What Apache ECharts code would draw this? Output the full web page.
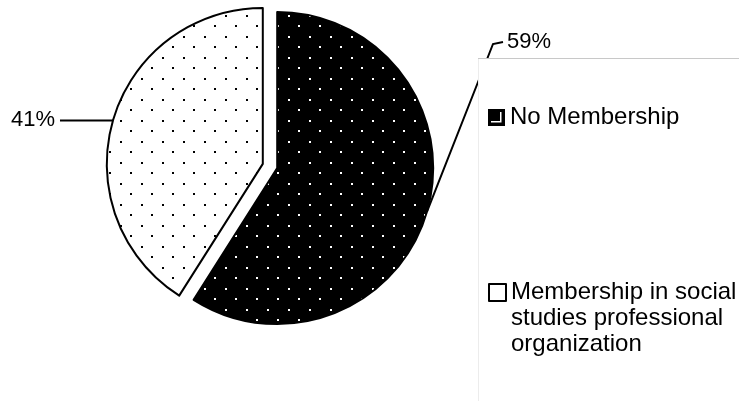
<!DOCTYPE html>
<html>
<head>
<meta charset="utf-8">
<script src="https://cdn.jsdelivr.net/npm/echarts@6/dist/echarts.min.js"></script>
<style>
  html, body { margin: 0; background: #fff; }
  #chart { width: 739px; height: 401px; }
</style>
</head>
<body>
<div id="chart"></div>
<script>
const categories = ['No Membership', 'Membership in social\nstudies professional\norganization'];
const shares = [59, 41];
const shareLabels = ['59%', '41%'];

const FONT = '"Liberation Sans", Arial, sans-serif';
const CX = 270, CY = 166, R = 156, EXPLODE = 7.5;

// dotted fill like the old excel pattern
function dotPattern(bg, dot) {
  const c = document.createElement('canvas');
  c.width = 21;
  c.height = 21;
  const ctx = c.getContext('2d');
  ctx.fillStyle = bg;
  ctx.fillRect(0, 0, 21, 21);
  ctx.fillStyle = dot;
  ctx.fillRect(4, 4, 2, 2);
  ctx.fillRect(15, 15, 2, 2);
  return { image: c, repeat: 'repeat' };
}

const fills = [dotPattern('#000', '#fff'), dotPattern('#fff', '#000')];

// each slice is pulled out along its own mid angle
const total = shares.reduce((a, b) => a + b, 0);
let acc = 0;
const centers = shares.map(v => {
  const mid = (acc + v / 2) / total * 2 * Math.PI;
  acc += v;
  return [CX + EXPLODE * Math.sin(mid), CY - EXPLODE * Math.cos(mid)];
});

function sliceSeries(k) {
  return {
    type: 'pie',
    center: centers[k],
    radius: R,
    startAngle: 90,
    clockwise: true,
    silent: true,
    emphasis: { disabled: true },
    label: {
      show: true,
      position: 'outside',
      formatter: p => shareLabels[p.dataIndex],
      fontSize: 22,
      color: '#000',
      fontFamily: FONT
    },
    labelLine: {
      show: true,
      length: 0,
      length2: 53,
      lineStyle: { color: '#000', width: 2 }
    },
    labelLayout: k === 0 ? function (p) {
      if (p.dataIndex !== 0) return {};
      const x = 507, y = 42;
      return {
        x: x, y: y, align: 'left', verticalAlign: 'middle',
        labelLinePoints: [p.labelLinePoints[0], [x - 14, y + 2], [x - 4, y]]
      };
    } : null,
    data: shares.map((v, j) => j === k ? {
      name: categories[j],
      value: v,
      itemStyle: { color: fills[j], borderColor: '#000', borderWidth: 2 }
    } : {
      name: '',
      value: v,
      itemStyle: { color: 'transparent', borderWidth: 0 },
      label: { show: false },
      labelLine: { show: false }
    })
  };
}

const legendText = { fontSize: 24, color: '#000', fontFamily: FONT, lineHeight: 26 };

const chart = echarts.init(document.getElementById('chart'));

chart.setOption({
  backgroundColor: '#fff',
  animation: false,
  legend: [{
    orient: 'vertical',
    left: 488,
    top: 104.5,
    padding: 0,
    itemWidth: 17,
    itemHeight: 17,
    selectedMode: false,
    textStyle: legendText,
    data: [{
      name: categories[0],
      // black box with the little white corner of the pattern swatch
      icon: 'path://M0,0H17V17H0Z M12,3L12,12L3,12L3,13.5L13.5,13.5L13.5,3Z',
      itemStyle: { color: '#000', borderWidth: 0 }
    }]
  }, {
    orient: 'vertical',
    left: 488,
    top: 278.5,
    padding: 0,
    itemWidth: 17,
    itemHeight: 78,
    selectedMode: false,
    textStyle: legendText,
    data: [{
      name: categories[1],
      // square sits at the first text line, moves stretch the icon box to the text height
      icon: 'path://M0,4.5H17V21.5H0Z M0,0 M17,78',
      itemStyle: { color: '#fff', borderColor: '#000', borderWidth: 2 }
    }]
  }],
  graphic: [{
    type: 'rect',
    z: 3,
    shape: { x: 478.5, y: 58.5, width: 300, height: 400 },
    style: { fill: '#fff', stroke: '#ececec', lineWidth: 1 }
  }, {
    type: 'line',
    z: 3,
    shape: { x1: 478, y1: 58.5, x2: 739, y2: 58.5 },
    style: { stroke: '#c8c8c8', lineWidth: 1 }
  }],
  series: [sliceSeries(0), sliceSeries(1)]
});
</script>
</body>
</html>
